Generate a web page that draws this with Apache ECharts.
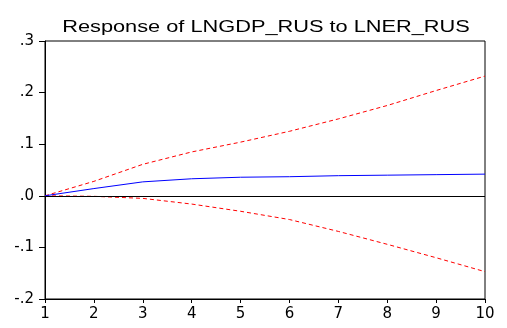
<!DOCTYPE html>
<html>
<head>
<meta charset="utf-8">
<script src="https://cdn.jsdelivr.net/npm/echarts@6/dist/echarts.min.js"></script>
<style>
  html, body { margin: 0; padding: 0; background: #fff; }
  #chart { width: 507px; height: 328px; }
</style>
</head>
<body>
<div id="chart"></div>
<script>
// Impulse response of LNGDP_RUS to a shock in LNER_RUS, with +/- 2 S.E. bands
const periods = [1, 2, 3, 4, 5, 6, 7, 8, 9, 10];
const response = [0.000, 0.014, 0.027, 0.033, 0.036, 0.037, 0.039, 0.040, 0.041, 0.042];
const upperBand = [0.000, 0.028, 0.061, 0.085, 0.104, 0.125, 0.149, 0.175, 0.204, 0.232];
const lowerBand = [0.000, -0.001, -0.005, -0.016, -0.030, -0.046, -0.069, -0.094, -0.120, -0.147];
const yTicks = [-0.2, -0.1, 0.0, 0.1, 0.2, 0.3];
const titleText = 'Response of LNGDP_RUS to LNER_RUS';

const pairs = (ys) => periods.map((p, i) => [p, ys[i]]);
// EViews-style tick labels: drop the leading zero (".3", "-.1")
const fmt = (v) => v.toFixed(1).replace(/^(-?)0\./, '$1.');

const chart = echarts.init(document.getElementById('chart'), null, { renderer: 'canvas' });
const titleFont = 'Liberation Sans, Arial, sans-serif';
const tickFont = 'DejaVu Sans, sans-serif';

chart.setOption({
  animation: false,
  backgroundColor: '#ffffff',
  graphic: [{
    type: 'text',
    x: 266, y: 20,
    scaleX: 1.36,
    style: {
      text: titleText,
      font: '16px ' + titleFont,
      fill: '#000',
      textAlign: 'center',
      textVerticalAlign: 'alphabetic'
    }
  }],
  grid: {
    left: 45, right: 22, top: 41, bottom: 29,
    show: true, borderColor: '#000', borderWidth: 1, backgroundColor: 'transparent'
  },
  xAxis: {
    type: 'value', min: 1, max: 10, interval: 1,
    axisLine: { show: true, onZero: false, lineStyle: { color: '#000', width: 1 } },
    axisTick: { show: true, length: 4, lineStyle: { color: '#000' } },
    axisLabel: { color: '#000', fontFamily: tickFont, fontSize: 15, margin: 8 },
    splitLine: { show: false }
  },
  yAxis: {
    type: 'value', min: yTicks[0], max: yTicks[yTicks.length - 1], interval: 0.1,
    axisLine: { show: true, onZero: false, lineStyle: { color: '#000', width: 1 } },
    axisTick: { show: true, length: 6, lineStyle: { color: '#000' } },
    axisLabel: { color: '#000', fontFamily: tickFont, fontSize: 15, margin: 11, formatter: fmt },
    splitLine: { show: false }
  },
  series: [
    {
      type: 'line', data: pairs(upperBand), symbol: 'none',
      lineStyle: { color: '#ff0000', width: 1, type: [4, 3] }, z: 3
    },
    {
      type: 'line', data: pairs(lowerBand), symbol: 'none',
      lineStyle: { color: '#ff0000', width: 1, type: [4, 3] }, z: 3
    },
    {
      type: 'line', data: pairs(response), symbol: 'none',
      lineStyle: { color: '#0000ff', width: 1 }, z: 4,
      markLine: {
        silent: true, symbol: 'none', label: { show: false },
        lineStyle: { color: '#000', width: 1, type: 'solid' },
        data: [{ yAxis: 0 }]
      }
    }
  ]
});
</script>
</body>
</html>
